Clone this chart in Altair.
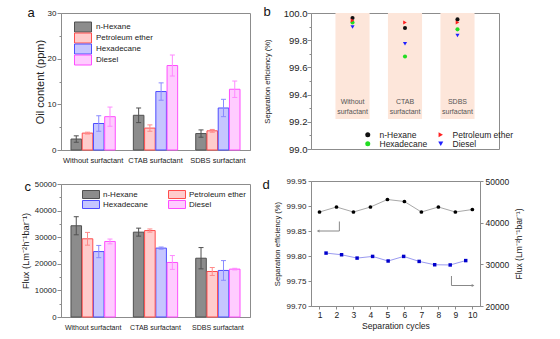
import altair as alt
import pandas as pd

FONT = "Liberation Sans"
AX = "#8c8c8c"
TXT = "#222222"

# ---------------- data ----------------
categories = ["Without surfactant", "CTAB surfactant", "SDBS surfactant"]
series = ["n-Hexane", "Petroleum ether", "Hexadecane", "Diesel"]
# legend columns used in panels b and c
legend_col1 = ["n-Hexane", "Hexadecane"]
legend_col2 = ["Petroleum ether", "Diesel"]

# (a) oil content in filtrate, ppm
oil_nhexane = [2.4, 7.6, 3.6]
oil_petroleum = [3.7, 4.8, 4.2]
oil_hexadecane = [5.8, 12.8, 9.2]
oil_diesel = [7.3, 18.5, 13.3]
oil_err_nhexane = [0.7, 1.6, 0.8]
oil_err_petroleum = [0.2, 0.7, 0.3]
oil_err_hexadecane = [1.7, 1.9, 1.9]
oil_err_diesel = [2.1, 2.3, 1.8]

# (b) separation efficiency, %
eff_nhexane = [99.963, 99.890, 99.953]
eff_petroleum = [99.945, 99.930, 99.930]
eff_hexadecane = [99.930, 99.680, 99.880]
eff_diesel = [99.897, 99.774, 99.835]
b_labels = ["Without\nsurfactant", "CTAB\nsurfactant", "SDBS\nsurfactant"]
shade_low = 99.22
shade_high = 100.0
b_label_level = 99.345

# (c) flux, L m-2 h-1 bar-1
flux_nhexane = [34300, 31900, 22100]
flux_petroleum = [29400, 32500, 17100]
flux_hexadecane = [24600, 25900, 17500]
flux_diesel = [28400, 20500, 18000]
flux_err_nhexane = [3400, 1500, 4000]
flux_err_petroleum = [2400, 600, 1500]
flux_err_hexadecane = [2300, 400, 3700]
flux_err_diesel = [900, 2600, 300]

# (d) cycling test
cycles = [1, 2, 3, 4, 5, 6, 7, 8, 9, 10]
cycle_eff = [99.888, 99.898, 99.888, 99.898, 99.913, 99.909, 99.888, 99.898, 99.888, 99.893]
cycle_flux = [32700, 32300, 31500, 31900, 30800, 31900, 30700, 29900, 29850, 30900]
# annotation arrows (left arrow -> left axis, right arrow -> right axis)
arrow_id = ["L", "L", "L", "R", "R", "R"]
arrow_step = [0, 1, 2, 0, 1, 2]
arrow_x = [2.17, 2.17, 0.98, 8.77, 8.77, 9.98]
arrow_y = [99.869, 99.850, 99.850, 99.760, 99.741, 99.741]
head_id = ["L", "R"]
head_x = [0.92, 10.04]
head_y = [99.850, 99.741]

# ---------------- styles ----------------
bar_fill = dict(zip(series, ["#8c8c8c", "#ffcccc", "#c6c6ff", "#ffccff"]))
bar_stroke = dict(zip(series, ["#505050", "#ff4d4d", "#4d4dff", "#ff4dff"]))
err_color = dict(zip(series, ["#505050", "#ff8a8a", "#8a8aff", "#ff8aff"]))
pt_color = dict(zip(series, ["#111111", "#ff2020", "#22dd22", "#2020ff"]))
pt_shape = dict(zip(series, ["circle", "triangle-right", "circle", "triangle-down"]))

IND = dict(fill="independent", stroke="independent", color="independent", shape="independent")
LETTER = dict(titleAngle=0, titleAlign="left", titleBaseline="alphabetic", titleFontSize=13,
              titleFont=FONT, titleFontWeight="normal", titleColor="#111111")


def long_df(vals, errs):
    rows = []
    for s, vs, es in zip(series, vals, errs):
        for c, v, e in zip(categories, vs, es):
            rows.append({"category": c, "series": s, "value": v, "lo": v - e, "hi": v + e})
    return pd.DataFrame(rows)


df_a = long_df([oil_nhexane, oil_petroleum, oil_hexadecane, oil_diesel],
               [oil_err_nhexane, oil_err_petroleum, oil_err_hexadecane, oil_err_diesel])
df_c = long_df([flux_nhexane, flux_petroleum, flux_hexadecane, flux_diesel],
               [flux_err_nhexane, flux_err_petroleum, flux_err_hexadecane, flux_err_diesel])


def bar_panel(df, ymax, major, minor, ytitle, w, h, groups, xfs, yfs, tfs, tpad, xlpad,
              letter, lx, ly):
    """groups: list of (series list, legend) pairs; each group gets its own legend."""
    xaxis = alt.Axis(labelAngle=0, ticks=False, tickSize=0, labelFontSize=xfs,
                     labelPadding=xlpad, labelColor=TXT, domainColor=AX, labelFont=FONT,
                     titleX=lx, titleY=ly, **LETTER)
    xenc = alt.X("category:N", sort=categories, title=letter,
                 scale=alt.Scale(domain=categories, paddingInner=0.29, paddingOuter=0.16), axis=xaxis)
    xoff = alt.XOffset("series:N", sort=series, scale=alt.Scale(domain=series, paddingInner=0.06))
    tvals = list(range(0, ymax + 1, minor))
    yaxis = alt.Axis(values=tvals, format="d", labelOverlap=False,
                     labelExpr=f"datum.value % {major} === 0 ? datum.label : ''",
                     tickSize={"condition": {"test": f"datum.value % {major} === 0", "value": 4}, "value": 2},
                     labelFontSize=yfs, titleFontSize=tfs, titlePadding=tpad, labelPadding=1,
                     labelColor=TXT, titleColor=TXT, domainColor=AX, tickColor=AX,
                     labelFont=FONT, titleFont=FONT, titleFontWeight="normal")
    yscale = alt.Scale(domain=[0, ymax], nice=False)
    base = alt.Chart(df)
    layers = []
    for names, legend in groups:
        layers.append(
            base.transform_filter(alt.FieldOneOfPredicate(field="series", oneOf=names)).mark_bar(
                strokeWidth=1).encode(
                x=xenc, xOffset=xoff,
                y=alt.Y("value:Q", scale=yscale, axis=yaxis, title=ytitle),
                fill=alt.Fill("series:N", scale=alt.Scale(domain=names, range=[bar_fill[s] for s in names]),
                              legend=legend),
                stroke=alt.Stroke("series:N",
                                  scale=alt.Scale(domain=names, range=[bar_stroke[s] for s in names]),
                                  legend=legend),
            ))
    ecol = alt.Color("series:N", scale=alt.Scale(domain=series, range=[err_color[s] for s in series]),
                     legend=None)
    rules = base.mark_rule(strokeWidth=1).encode(
        x=xenc, xOffset=xoff, y=alt.Y("lo:Q", scale=yscale, axis=yaxis, title=ytitle), y2="hi:Q", color=ecol)
    cap_hi = base.mark_point(shape="M-1,0L1,0", size=25, filled=False, strokeWidth=1, opacity=1).encode(
        x=xenc, xOffset=xoff, y=alt.Y("hi:Q", scale=yscale, axis=yaxis, title=ytitle), color=ecol)
    cap_lo = base.mark_point(shape="M-1,0L1,0", size=25, filled=False, strokeWidth=1, opacity=1).encode(
        x=xenc, xOffset=xoff, y=alt.Y("lo:Q", scale=yscale, axis=yaxis, title=ytitle), color=ecol)
    return alt.layer(*layers, rules, cap_hi, cap_lo).resolve_scale(
        fill="independent", stroke="independent").properties(width=w, height=h)


def bar_legend(x, y, sym, rowpad, off):
    return alt.Legend(title=None, orient="none", legendX=x, legendY=y, symbolType=sym, symbolSize=25,
                      symbolStrokeWidth=1, labelFontSize=8, labelFont=FONT, labelColor=TXT,
                      rowPadding=rowpad, labelOffset=off)


SYM_A = "M-3.4,-2L3.4,-2L3.4,2L-3.4,2Z"
SYM_C = "M-3.4,-1.6L3.4,-1.6L3.4,1.6L-3.4,1.6Z"
leg_a = bar_legend(18, 10, SYM_A, -3.5, 9)
leg_c1 = bar_legend(26, 6.5, SYM_C, -4, 8)
leg_c2 = bar_legend(112, 6.5, SYM_C, -4, 8)

panel_a = bar_panel(df_a, 30, 10, 5, "Oil content (ppm)", 189, 137, [(series, leg_a)],
                    7.5, 8, 11, 2, 6, "a", -34, -134)
panel_c = bar_panel(df_c, 50000, 10000, 5000, "Flux (Lm⁻²h⁻¹bar⁻¹)", 189, 133,
                    [(legend_col1, leg_c1), (legend_col2, leg_c2)],
                    7, 7.8, 9.3, 4, 6, "c", -37, -127)

# ---------------- panel b ----------------
rows_b = []
for s, vs in zip(series, [eff_nhexane, eff_petroleum, eff_hexadecane, eff_diesel]):
    for c, v in zip(categories, vs):
        rows_b.append({"category": c, "series": s, "value": v})
df_b = pd.DataFrame(rows_b)
df_b_shade = pd.DataFrame({"category": categories, "low": [shade_low] * 3, "high": [shade_high] * 3,
                           "label": b_labels, "ly": [b_label_level] * 3})

xb = alt.X("category:N", sort=categories, title="b",
           scale=alt.Scale(domain=categories, paddingInner=0.35, paddingOuter=0.466),
           axis=alt.Axis(orient="top", labels=False, ticks=False, domain=False, titleX=-48, titleY=2, **LETTER))
yb_scale = alt.Scale(domain=[99.0, 100.0], nice=False, zero=False)
b_ticks = [round(99.0 + i * 0.1, 1) for i in range(11)]
b_major = "abs(datum.value*5 - round(datum.value*5)) < 0.001"
yb_axis = alt.Axis(values=b_ticks, labelExpr=f"{b_major} ? format(datum.value, '.1f') : ''",
                   labelOverlap=False,
                   tickSize={"condition": {"test": b_major, "value": 4}, "value": 2},
                   labelFontSize=9.5, titleFontSize=7.6, titlePadding=12, labelPadding=0,
                   labelColor=TXT, titleColor=TXT, domainColor=AX, tickColor=AX,
                   labelFont=FONT, titleFont=FONT, titleFontWeight="normal")
b_title = "Separation efficiency (%)"


def pt_legend(x):
    return alt.Legend(title=None, orient="none", legendX=x, legendY=117.5, symbolSize=25,
                      labelFontSize=8.5, labelFont=FONT, labelColor=TXT, rowPadding=-2, labelOffset=7.5)


shade = alt.Chart(df_b_shade).mark_bar(color="#fde6da").encode(
    x=xb, y=alt.Y("low:Q", scale=yb_scale, axis=yb_axis, title=b_title), y2="high:Q")
shade_txt = alt.Chart(df_b_shade).mark_text(fontSize=7, lineBreak="\n", lineHeight=10, color="#555555",
                                            font=FONT, baseline="middle").encode(
    x=xb, y=alt.Y("ly:Q", scale=yb_scale, axis=yb_axis, title=b_title), text="label:N")
pt_layers = []
for names, lx in [(legend_col1, 52.5), (legend_col2, 125.5)]:
    leg = pt_legend(lx)
    pt_layers.append(
        alt.Chart(df_b).transform_filter(alt.FieldOneOfPredicate(field="series", oneOf=names)).mark_point(
            filled=True, size=17, opacity=1).encode(
            x=xb, y=alt.Y("value:Q", scale=yb_scale, axis=yb_axis, title=b_title),
            color=alt.Color("series:N", scale=alt.Scale(domain=names, range=[pt_color[s] for s in names]),
                            legend=leg),
            shape=alt.Shape("series:N", scale=alt.Scale(domain=names, range=[pt_shape[s] for s in names]),
                            legend=leg),
        ))
panel_b = alt.layer(shade, shade_txt, *pt_layers).resolve_scale(
    color="independent", shape="independent").properties(width=188, height=136)

# ---------------- panel d ----------------
df_d = pd.DataFrame({"cycle": cycles, "eff": cycle_eff, "flux": cycle_flux})
df_arrow = pd.DataFrame({"arrow": arrow_id, "step": arrow_step, "x": arrow_x, "y": arrow_y})
df_head = pd.DataFrame({"arrow": head_id, "x": head_x, "y": head_y})

d_title_l = "Separation efficiency (%)"
d_xtitle = "Separation cycles"
xd_scale = alt.Scale(domain=[0.5, 10.45], nice=False, zero=False)
xd_axis = alt.Axis(values=cycles, format="d", tickSize=3, labelFontSize=8.5, titleFontSize=8.6,
                   labelOverlap=False,
                   labelPadding=1, titlePadding=3, labelColor=TXT, titleColor=TXT, domainColor=AX,
                   tickColor=AX, labelFont=FONT, titleFont=FONT, titleFontWeight="normal")
yd_scale = alt.Scale(domain=[99.70, 99.95], nice=False, zero=False)
yd_axis = alt.Axis(values=[99.70, 99.75, 99.80, 99.85, 99.90, 99.95], format=".2f", tickSize=3,
                   labelOverlap=False,
                   labelFontSize=8, titleFontSize=7.6, titlePadding=4, labelPadding=2,
                   labelColor=TXT, titleColor=TXT, domainColor=AX, tickColor=AX,
                   labelFont=FONT, titleFont=FONT, titleFontWeight="normal")
xd = alt.X("cycle:Q", scale=xd_scale, axis=xd_axis, title=d_xtitle)
yd = alt.Y("eff:Q", scale=yd_scale, axis=yd_axis, title=d_title_l)
line_eff = alt.Chart(df_d).mark_line(color="#a8a8a8", strokeWidth=1).encode(x=xd, y=yd)
pts_eff = alt.Chart(df_d).mark_point(filled=True, color="#000000", size=14, opacity=1).encode(x=xd, y=yd)
arrows = alt.Chart(df_arrow).mark_line(color="#888888", strokeWidth=1).encode(
    x=alt.X("x:Q", scale=xd_scale, axis=xd_axis, title=d_xtitle),
    y=alt.Y("y:Q", scale=yd_scale, axis=yd_axis, title=d_title_l),
    detail="arrow:N", order="step:Q")
heads = alt.Chart(df_head).mark_point(filled=True, color="#888888", size=10, opacity=1).encode(
    x=alt.X("x:Q", scale=xd_scale, axis=xd_axis, title=d_xtitle),
    y=alt.Y("y:Q", scale=yd_scale, axis=yd_axis, title=d_title_l),
    shape=alt.Shape("arrow:N", scale=alt.Scale(domain=head_id, range=["triangle-left", "triangle-right"]),
                    legend=None))
left_d = alt.layer(line_eff, pts_eff, arrows, heads)

xf_axis = alt.Axis(orient="top", labels=False, ticks=False, domain=False, titleX=-49, titleY=7, **LETTER)
xf = alt.X("cycle:Q", scale=alt.Scale(domain=[0.03, 10.92], nice=False, zero=False), axis=xf_axis, title="d")
yf_axis = alt.Axis(orient="right", values=[20000, 30000, 40000, 50000], format="d", tickSize=3,
                   labelOverlap=False,
                   labelFontSize=8.5, titleFontSize=8.6, titlePadding=6, labelPadding=2,
                   titleAngle=270, titleBaseline="top",
                   labelColor=TXT, titleColor=TXT, domainColor=AX, tickColor=AX,
                   labelFont=FONT, titleFont=FONT, titleFontWeight="normal")
yf = alt.Y("flux:Q", scale=alt.Scale(domain=[20000, 50000], nice=False, zero=False),
           axis=yf_axis, title="Flux (Lm⁻²h⁻¹bar⁻¹)")
line_flux = alt.Chart(df_d).mark_line(color="#9a9af0", strokeWidth=1).encode(x=xf, y=yf)
pts_flux = alt.Chart(df_d).mark_square(filled=True, color="#0000cc", size=12, opacity=1).encode(x=xf, y=yf)
right_d = alt.layer(line_flux, pts_flux)

panel_d = alt.layer(left_d, right_d).resolve_scale(x="independent", y="independent").properties(
    width=169, height=125)

left_col = alt.vconcat(panel_a, panel_c, spacing=15).resolve_scale(**IND).resolve_legend(**IND)
right_col = alt.vconcat(panel_b, panel_d, spacing=22).resolve_scale(**IND).resolve_legend(**IND)

chart = alt.hconcat(left_col, right_col, spacing=10).resolve_scale(**IND).resolve_legend(**IND).properties(
    padding={"left": 20, "top": 4, "right": 5, "bottom": 5}, background="white"
).configure_view(stroke=AX, strokeWidth=1).configure_axis(grid=False, labelOverlap=False)

chart.save("out.html", embed_options={"renderer": "svg", "actions": False})
